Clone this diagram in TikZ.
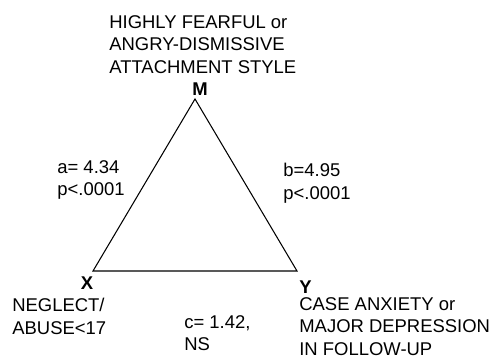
\documentclass[tikz,border=0pt]{standalone}
\usepackage{fontspec}
\setmainfont{Liberation Sans}
\usepackage{tikz}
\tikzset{
  txt/.style={font=\fontsize{10.5}{12.8}\selectfont, align=left, inner sep=0pt},
  sommet/.style={font=\fontsize{10.5}{12.8}\selectfont\bfseries, inner sep=0pt}
}

\begin{document}
\begin{tikzpicture}[x=1cm, y=1cm]
    \useasboundingbox (0,0) rectangle (9.98,7.28);

    % Triangle
    \coordinate (m) at (3.90,5.30);
    \coordinate (x) at (1.86,1.86);
    \coordinate (y) at (5.94,1.86);
    \draw[line width=0.6pt] (m) -- (x) -- (y) -- cycle;

    % Sommet M
    \node[sommet] (lm) at (4.00,5.50) {M};
    \node[txt, anchor=north west] (tm) at (2.18,6.98) {HIGHLY FEARFUL or\\ANGRY-DISMISSIVE\\ATTACHMENT STYLE};

    % Sommet X
    \node[sommet] (lx) at (1.74,1.62) {X};
    \node[txt, anchor=north west] (tx) at (0.24,1.32) {NEGLECT/\\ABUSE<17};

    % Sommet Y
    \node[sommet, anchor=west] (ly) at (5.98,1.54) {Y};
    \node[txt, anchor=north west] (ty) at (5.98,1.34) {CASE ANXIETY or\\MAJOR DEPRESSION\\IN FOLLOW-UP};

    % Coefficients
    \node[txt, anchor=north west] (ca) at (1.14,4.08) {a= 4.34\\p<.0001};
    \node[txt, anchor=north west] (cb) at (5.66,4.02) {b=4.95\\p<.0001};
    \node[txt, anchor=north west] (cc) at (3.68,0.98) {c= 1.42,\\NS};
\end{tikzpicture}
\end{document}
